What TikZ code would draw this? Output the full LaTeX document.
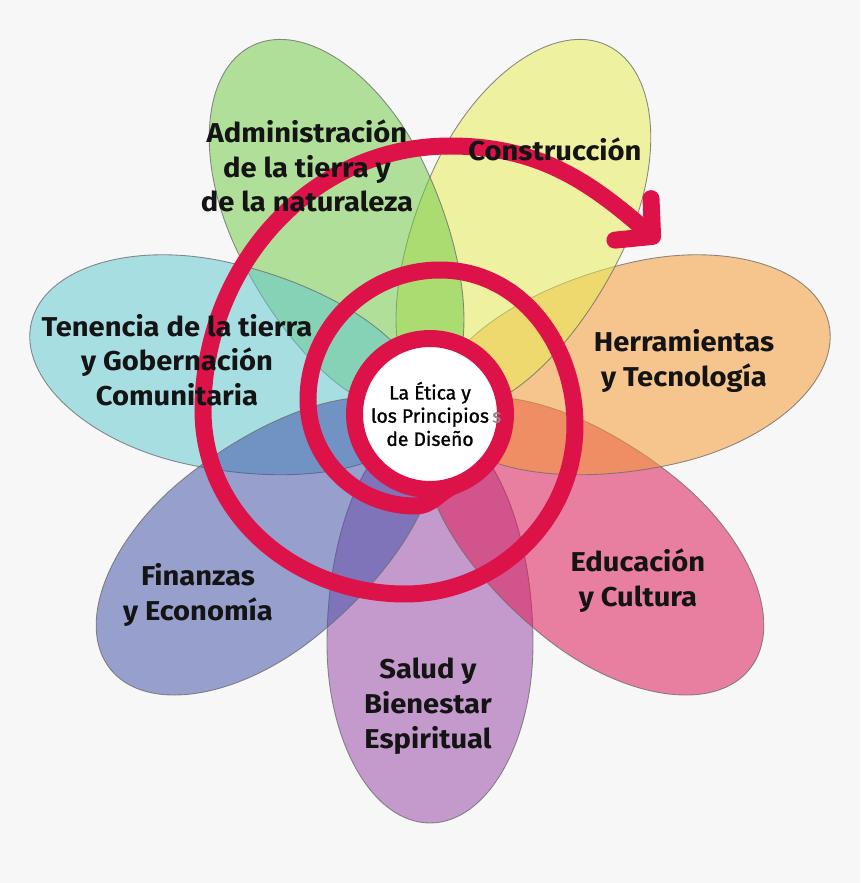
\documentclass[tikz,border=0pt]{standalone}
\usepackage{fontspec}
\setmainfont{Fira Sans}
\newfontfamily\labelfont[FakeStretch=1.07]{Fira Sans}
\newfontfamily\corefont[FakeBold=1.2]{Fira Sans}
\usepackage{xcolor}
\usepackage{tikz}
\usetikzlibrary{arrows.meta}
\definecolor{FLBack}{HTML}{F7F7F7}
\definecolor{FLLine}{HTML}{6E6E6E}
\definecolor{FLRed}{HTML}{DC1249}
\definecolor{FLViolet}{HTML}{9749A8}
\definecolor{FLPink}{HTML}{DE1653}
\definecolor{FLOrange}{HTML}{F59A2F}
\definecolor{FLYellow}{HTML}{E6EC53}
\definecolor{FLGreen}{HTML}{71CA49}
\definecolor{FLCyan}{HTML}{60C8D1}
\definecolor{FLIndigo}{HTML}{4251A8}
\tikzset{
  petal/.style={fill=#1,fill opacity=.53,draw=FLLine,draw opacity=.8,line width=.5pt},
  petallabel/.style={font=\labelfont\fontsize{15.5}{19.8}\selectfont\bfseries,align=center,text=black!92,inner sep=0pt},
  spiralline/.style={draw=FLRed,line width=.34cm,line cap=round}
}

\begin{document}
\begin{tikzpicture}[x=0.02cm,y=0.02cm]
\path[use as bounding box] (-430,-469) rectangle (430,414);
\fill[FLBack] (-430,-469) rectangle (430,414);
\foreach \ang/\col in {-90/FLViolet,-38.57/FLPink,12.86/FLOrange,64.29/FLYellow,115.71/FLGreen,167.14/FLCyan,218.57/FLIndigo}
  \path[petal=\col,rotate=\ang] (230,103) arc[start angle=90,end angle=-90,x radius=179,y radius=103]
    arc[start angle=-90,end angle=-270,x radius=222,y radius=103] -- cycle;
\coordinate (s0) at (26,-71);
\coordinate (s1) at (-15,-92);
\coordinate (s2) at (-122,14);
\coordinate (s3) at (10,144);
\coordinate (s4) at (145,-11);
\coordinate (s5) at (-25,-180);
\coordinate (s6) at (-227,4);
\coordinate (s7) at (20,268);
\coordinate (s8) at (229,172);
\draw[spiralline,-{Straight Barb[round,length=0.52cm,width=1.1cm]}] (s0) to[out=-160,in=0] (s1)
  to[out=180,in=-90] (s2) to[out=90,in=180] (s3) to[out=0,in=90] (s4) to[out=-90,in=0] (s5)
  to[out=180,in=-90] (s6) to[out=90,in=180] (s7) to[out=0,in=139] (s8);
\node[circle,fill=white,draw=FLRed,line width=.34cm,minimum size=3.02cm,inner sep=0pt,align=center,
  font=\corefont\fontsize{11}{13.2}\selectfont] (core) at (0,0)
  {La Ética y\\los Principios\rlap{\,\textcolor{black!45}{s}}\\de Diseño};
\node[petallabel] (admin) at (-123,248) {Administración\\de la tierra y\\de la naturaleza};
\node[petallabel] (cons) at (125,265) {Construcción};
\node[petallabel] (herr) at (254,53) {Herramientas\\y Tecnología};
\node[petallabel] (edu) at (208,-167) {Educación\\y Cultura};
\node[petallabel] (salud) at (-2,-292) {Salud y\\Bienestar\\Espiritual};
\node[petallabel] (fin) at (-232,-181) {Finanzas\\y Economía};
\node[petallabel] (ten) at (-253,54) {Tenencia de la tierra\\y Gobernación\\Comunitaria};
\end{tikzpicture}
\end{document}
